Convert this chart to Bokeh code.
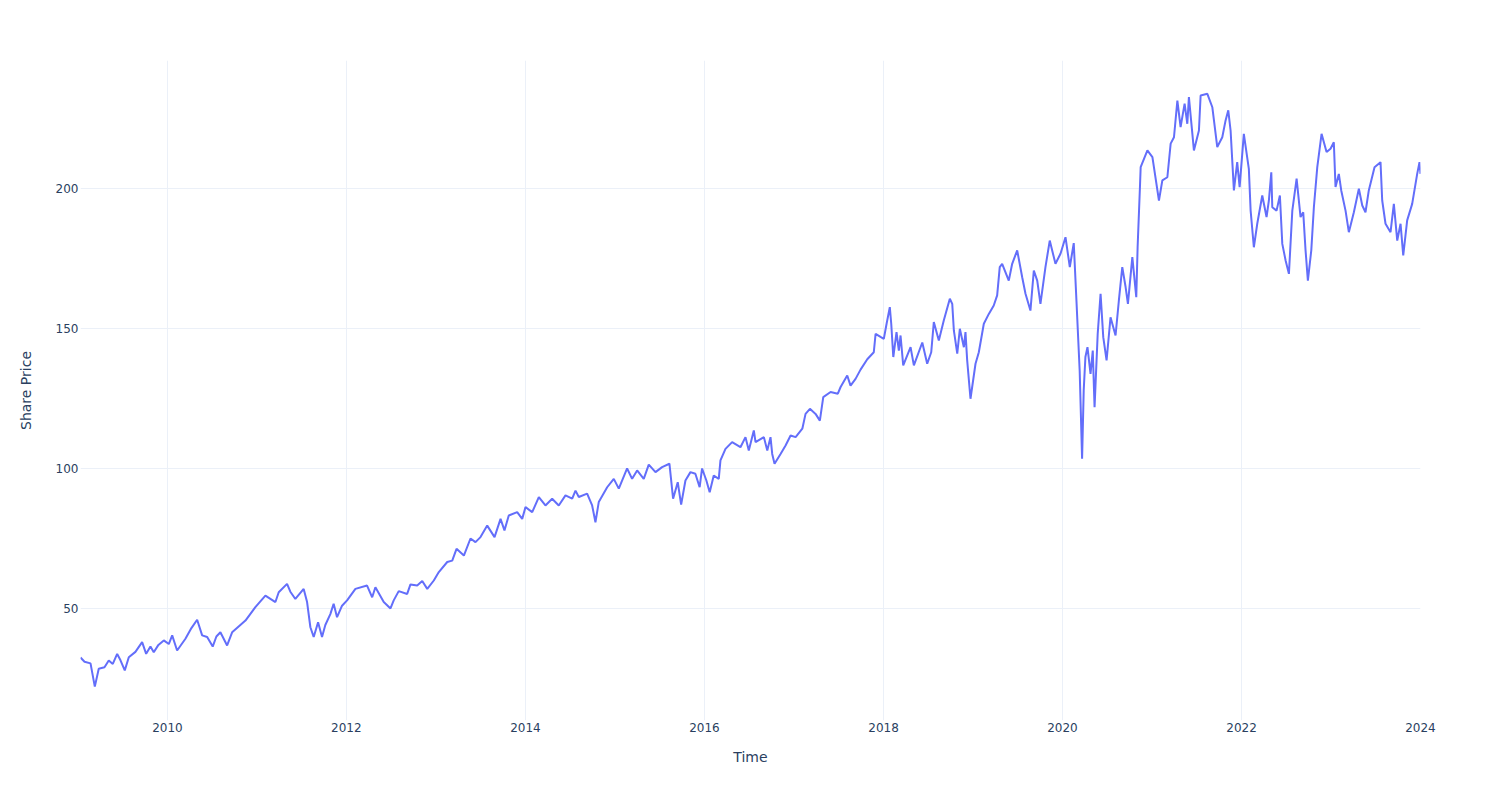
import pandas as pd
from bokeh.plotting import figure
from bokeh.models import FixedTicker, DatetimeTickFormatter, Range1d
from bokeh.embed import file_html
from bokeh.resources import INLINE

time_years = [
    2009.028, 2009.073, 2009.140, 2009.188, 2009.232, 2009.296, 2009.344, 2009.389, 2009.438, 2009.475,
    2009.523, 2009.568, 2009.642, 2009.717, 2009.762, 2009.810, 2009.847, 2009.899, 2009.959, 2010.015,
    2010.053, 2010.108, 2010.201, 2010.268, 2010.332, 2010.388, 2010.444, 2010.506, 2010.547, 2010.592,
    2010.667, 2010.723, 2010.793, 2010.872, 2010.983, 2011.095, 2011.207, 2011.244, 2011.337, 2011.374,
    2011.430, 2011.523, 2011.561, 2011.598, 2011.635, 2011.684, 2011.728, 2011.765, 2011.821, 2011.858,
    2011.896, 2011.952, 2012.008, 2012.101, 2012.231, 2012.288, 2012.324, 2012.417, 2012.492, 2012.528,
    2012.584, 2012.678, 2012.715, 2012.790, 2012.846, 2012.902, 2012.975, 2013.031, 2013.125, 2013.181,
    2013.229, 2013.311, 2013.385, 2013.441, 2013.497, 2013.572, 2013.654, 2013.721, 2013.765, 2013.813,
    2013.907, 2013.963, 2014.000, 2014.075, 2014.149, 2014.223, 2014.298, 2014.372, 2014.447, 2014.522,
    2014.559, 2014.596, 2014.689, 2014.745, 2014.782, 2014.819, 2014.913, 2014.987, 2015.043, 2015.136,
    2015.192, 2015.248, 2015.322, 2015.378, 2015.453, 2015.527, 2015.609, 2015.650, 2015.702, 2015.740,
    2015.788, 2015.844, 2015.899, 2015.947, 2015.974, 2016.022, 2016.059, 2016.104, 2016.160, 2016.179,
    2016.235, 2016.309, 2016.402, 2016.458, 2016.495, 2016.551, 2016.570, 2016.663, 2016.701, 2016.737,
    2016.756, 2016.782, 2016.849, 2016.905, 2016.961, 2017.017, 2017.092, 2017.128, 2017.177, 2017.240,
    2017.288, 2017.326, 2017.408, 2017.489, 2017.520, 2017.594, 2017.631, 2017.687, 2017.743, 2017.818,
    2017.891, 2017.911, 2017.966, 2018.003, 2018.034, 2018.070, 2018.086, 2018.109, 2018.145, 2018.171,
    2018.190, 2018.220, 2018.302, 2018.339, 2018.433, 2018.488, 2018.533, 2018.562, 2018.618, 2018.674,
    2018.741, 2018.768, 2018.786, 2018.824, 2018.853, 2018.898, 2018.916, 2018.935, 2018.972, 2019.028,
    2019.065, 2019.121, 2019.177, 2019.232, 2019.270, 2019.299, 2019.326, 2019.400, 2019.438, 2019.494,
    2019.550, 2019.587, 2019.642, 2019.680, 2019.718, 2019.754, 2019.810, 2019.858, 2019.922, 2019.978,
    2020.034, 2020.082, 2020.126, 2020.156, 2020.192, 2020.219, 2020.237, 2020.256, 2020.279, 2020.313,
    2020.338, 2020.358, 2020.393, 2020.425, 2020.455, 2020.492, 2020.536, 2020.592, 2020.629, 2020.667,
    2020.704, 2020.730, 2020.779, 2020.823, 2020.838, 2020.864, 2020.872, 2020.947, 2021.003, 2021.076,
    2021.114, 2021.170, 2021.207, 2021.244, 2021.282, 2021.318, 2021.363, 2021.393, 2021.411, 2021.467,
    2021.523, 2021.542, 2021.617, 2021.673, 2021.728, 2021.784, 2021.821, 2021.851, 2021.877, 2021.914,
    2021.951, 2021.978, 2022.025, 2022.081, 2022.101, 2022.137, 2022.175, 2022.231, 2022.279, 2022.305,
    2022.332, 2022.343, 2022.391, 2022.428, 2022.455, 2022.492, 2022.529, 2022.567, 2022.615, 2022.659,
    2022.689, 2022.715, 2022.741, 2022.779, 2022.808, 2022.846, 2022.894, 2022.950, 2022.994, 2023.031,
    2023.050, 2023.087, 2023.114, 2023.162, 2023.199, 2023.255, 2023.311, 2023.349, 2023.385, 2023.422,
    2023.486, 2023.553, 2023.572, 2023.609, 2023.665, 2023.702, 2023.740, 2023.777, 2023.807, 2023.851,
    2023.907, 2023.963, 2023.989, 2024.000,
]

share_price = [
    32.5, 31.0, 30.4, 22.1, 28.5, 29.0, 31.4, 30.2, 33.8, 31.5,
    27.9, 32.6, 34.5, 38.0, 33.8, 36.4, 34.4, 37.0, 38.6, 37.3,
    40.4, 35.0, 39.2, 43.0, 46.0, 40.4, 39.8, 36.4, 40.0, 41.5,
    36.8, 41.5, 43.5, 45.7, 50.5, 54.6, 52.3, 55.8, 58.8, 56.0,
    53.4, 57.0, 52.3, 43.3, 39.8, 45.1, 39.8, 44.1, 48.0, 51.7,
    46.9, 51.0, 52.9, 57.0, 58.2, 54.0, 57.6, 52.3, 50.0, 52.9,
    56.2, 55.2, 58.6, 58.2, 59.8, 57.0, 60.0, 63.0, 66.6, 67.1,
    71.3, 68.9, 75.0, 73.7, 75.5, 79.6, 75.5, 82.0, 77.9, 83.2,
    84.4, 82.0, 86.2, 84.4, 89.8, 86.8, 89.2, 86.8, 90.4, 89.2,
    92.1, 89.8, 91.0, 86.8, 80.8, 88.0, 93.3, 96.3, 92.8, 100.0,
    96.3, 99.3, 96.3, 101.4, 98.7, 100.5, 101.7, 89.2, 95.1, 87.1,
    95.7, 98.7, 98.1, 93.3, 100.0, 95.7, 91.5, 97.5, 96.3, 102.9,
    107.0, 109.4, 107.6, 111.2, 106.4, 113.6, 109.4, 111.2, 106.4, 111.2,
    105.2, 101.7, 105.2, 108.2, 111.8, 111.2, 114.2, 119.5, 121.3, 119.5,
    117.1, 125.5, 127.3, 126.7, 129.1, 133.2, 129.6, 132.0, 135.3, 139.0,
    141.5, 148.1, 147.0, 146.3, 151.7, 157.6, 151.7, 139.8, 148.7, 142.1,
    147.5, 136.8, 143.3, 136.8, 145.0, 137.4, 141.5, 152.3, 145.7, 152.9,
    160.6, 158.8, 149.3, 141.0, 149.9, 143.3, 148.7, 138.6, 124.9, 137.4,
    141.5, 151.7, 155.2, 158.2, 161.8, 171.9, 173.1, 167.1, 173.1, 177.9,
    168.3, 162.4, 156.4, 170.7, 167.1, 158.8, 171.9, 181.4, 173.1, 176.7,
    182.6, 171.9, 180.5, 160.0, 135.0, 103.5, 127.9, 139.8, 143.3, 133.8,
    142.1, 121.9, 148.1, 162.4, 146.9, 138.6, 154.0, 147.5, 160.0, 171.9,
    164.8, 158.8, 175.5, 161.2, 179.0, 200.5, 207.6, 213.6, 211.2, 195.7,
    202.9, 204.0, 216.0, 218.3, 231.4, 221.9, 230.3, 223.1, 232.6, 213.6,
    220.7, 233.2, 233.8, 229.0, 214.8, 218.3, 224.3, 227.9, 220.7, 199.3,
    209.4, 200.5, 219.5, 207.0, 192.1, 179.0, 187.4, 197.5, 189.8, 195.7,
    205.8, 193.3, 192.1, 197.5, 180.2, 174.3, 169.5, 192.1, 203.5, 189.8,
    191.5, 177.9, 167.1, 177.9, 193.3, 207.6, 219.5, 213.0, 214.2, 216.5,
    200.5, 205.2, 199.3, 192.1, 184.4, 191.5, 199.9, 193.9, 191.5, 199.3,
    207.6, 209.4, 195.7, 187.4, 184.4, 194.5, 181.4, 187.4, 176.1, 188.6,
    194.5, 205.2, 209.4, 205.2,
]

tick_years = [2010, 2012, 2014, 2016, 2018, 2020, 2022, 2024]
y_ticks = [50, 100, 150, 200]


def to_datetime(t):
    y = int(t)
    start = pd.Timestamp(year=y, month=1, day=1)
    end = pd.Timestamp(year=y + 1, month=1, day=1)
    return start + (end - start) * (t - y)


dates = [to_datetime(t) for t in time_years]
epoch = pd.Timestamp("1970-01-01")
tick_ms = [(pd.Timestamp(year=y, month=1, day=1) - epoch).total_seconds() * 1000 for y in tick_years]

TEXT = "#2a3f5f"
GRID = "#EBF0F8"
FONT = "DejaVu Sans"

p = figure(
    width=1500, height=800, x_axis_type="datetime",
    output_backend="svg", toolbar_location=None,
    min_border_left=80, min_border_right=80, min_border_top=60, min_border_bottom=80,
    background_fill_color="white", border_fill_color="white",
)
p.outline_line_color = None
p.x_range = Range1d(dates[0], dates[-1])
p.y_range = Range1d(10.0, 245.7)

p.line(dates, share_price, line_color="#636efa", line_width=2)

p.xaxis.ticker = FixedTicker(ticks=tick_ms)
p.xaxis.formatter = DatetimeTickFormatter(years="%Y", months="%Y", days="%Y", hours="%Y")
p.yaxis.ticker = FixedTicker(ticks=y_ticks)

for ax in (p.xaxis[0], p.yaxis[0]):
    ax.axis_line_color = None
    ax.major_tick_line_color = None
    ax.minor_tick_line_color = None
    ax.major_tick_out = 0
    ax.major_tick_in = 0
    ax.minor_tick_out = 0
    ax.minor_tick_in = 0
    ax.major_label_text_font = FONT
    ax.major_label_text_font_size = "12px"
    ax.major_label_text_color = TEXT
    ax.axis_label_text_font = FONT
    ax.axis_label_text_font_size = "14px"
    ax.axis_label_text_color = TEXT
    ax.axis_label_text_font_style = "normal"

p.xaxis.axis_label = "Time"
p.yaxis.axis_label = "Share Price"
p.xaxis.major_label_standoff = 2
p.xaxis.axis_label_standoff = 14
p.yaxis.major_label_standoff = 2
p.yaxis.axis_label_standoff = 19

p.xgrid.grid_line_color = GRID
p.ygrid.grid_line_color = GRID
p.xgrid.grid_line_width = 1
p.ygrid.grid_line_width = 1

open("out.html", "w").write(file_html(p, INLINE))
